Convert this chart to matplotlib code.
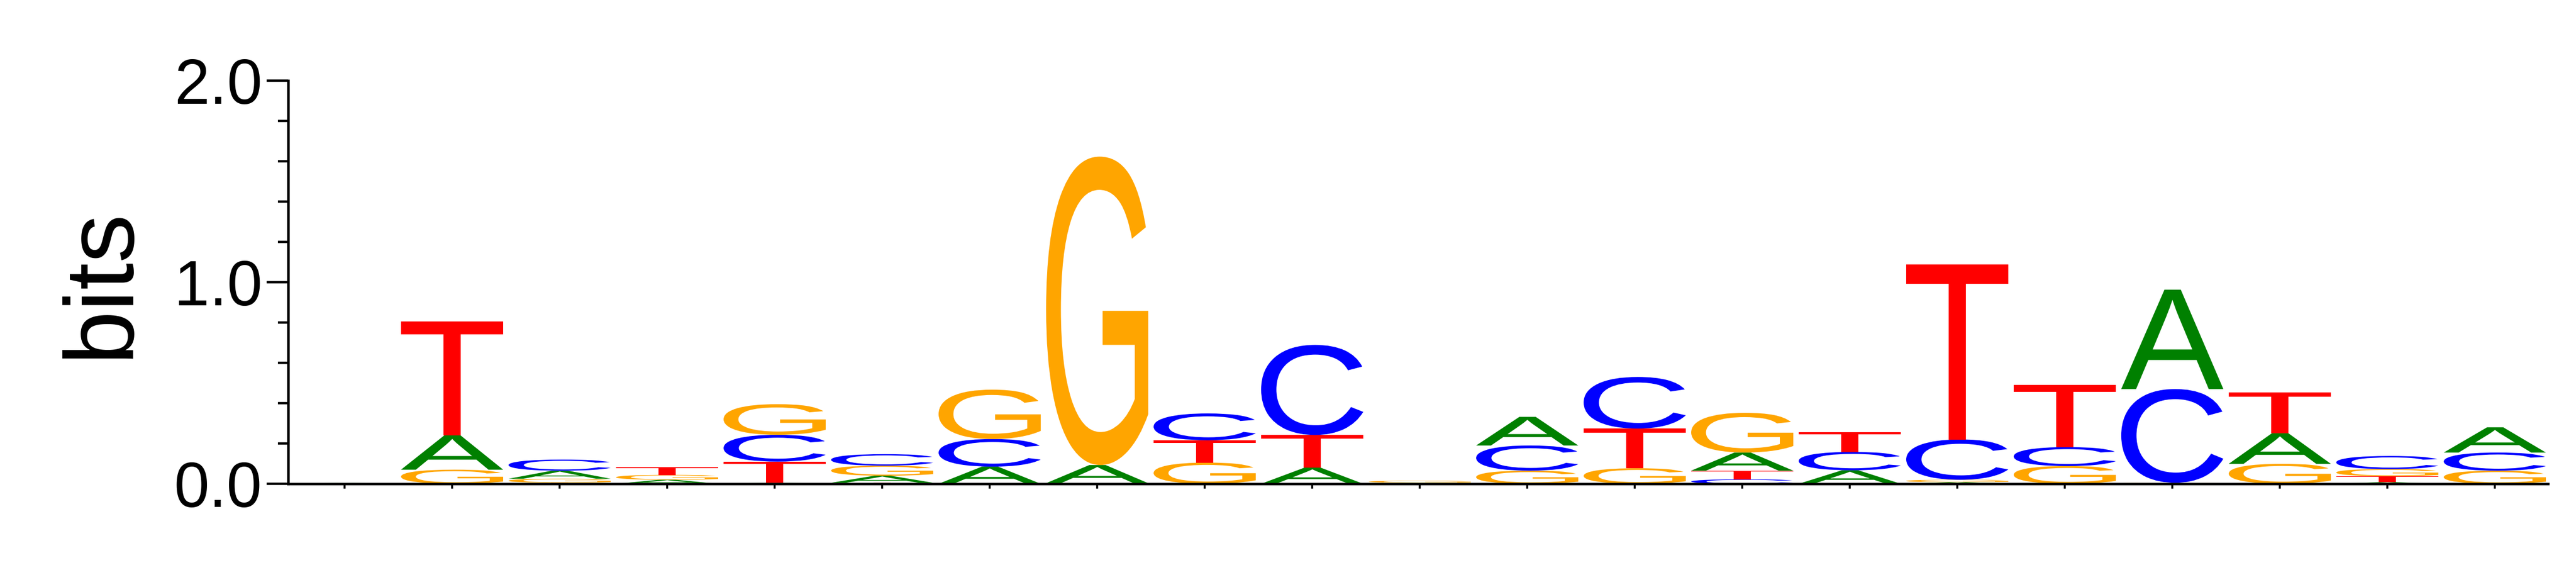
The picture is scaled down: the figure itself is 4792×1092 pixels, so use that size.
import matplotlib
matplotlib.use('Agg')
import matplotlib.pyplot as plt
from matplotlib.textpath import TextPath
from matplotlib.patches import PathPatch
from matplotlib.font_manager import FontProperties
from matplotlib.transforms import Affine2D
from matplotlib.ticker import MultipleLocator, FormatStrFormatter

plt.rcParams['font.family'] = ['Liberation Sans', 'DejaVu Sans']

# ---- data: information (bits) per letter at each position ----
positions = list(range(1, 22))
A = [0.004, 0.170, 0.040, 0.020, 0.005, 0.035, 0.085, 0.090, 0.000, 0.080, 0.005,
     0.142, 0.000, 0.090, 0.067, 0.008, 0.000, 0.493, 0.152, 0.008, 0.125]
C = [0.000, 0.000, 0.055, 0.000, 0.133, 0.057, 0.137, 0.000, 0.133, 0.447, 0.000,
     0.125, 0.256, 0.022, 0.091, 0.200, 0.094, 0.465, 0.000, 0.065, 0.090]
G = [0.000, 0.070, 0.020, 0.024, 0.152, 0.050, 0.245, 1.530, 0.105, 0.000, 0.010,
     0.065, 0.077, 0.197, 0.000, 0.012, 0.088, 0.005, 0.099, 0.035, 0.065]
T = [0.000, 0.565, 0.005, 0.038, 0.105, 0.005, 0.000, 0.003, 0.111, 0.162, 0.000,
     0.000, 0.197, 0.043, 0.098, 0.869, 0.309, 0.000, 0.203, 0.030, 0.000]

colors = {'A': '#008000', 'C': '#0000ff', 'G': '#ffa500', 'T': '#ff0000'}
letter_width = 0.95

W, H = 4792, 1092
fig = plt.figure(figsize=(W / 100, H / 100), dpi=100)
ax = fig.add_axes([536 / W, 192 / H, (4740 - 536) / W, 750 / H])

fp = FontProperties(family='Liberation Sans')


def draw_letter(ch, xc, y0, w, h):
    tp = TextPath((0, 0), ch, size=1, prop=fp)
    ext = tp.get_extents()
    tr = (Affine2D().translate(-ext.x0, -ext.y0)
          .scale(w / ext.width, h / ext.height)
          .translate(xc - w / 2, y0))
    ax.add_patch(PathPatch(tr.transform_path(tp), facecolor=colors[ch],
                           edgecolor='none', lw=0, zorder=2))


for i, pos in enumerate(positions):
    stack = [('A', A[i]), ('C', C[i]), ('G', G[i]), ('T', T[i])]
    stack.sort(key=lambda s: s[1])
    base = 0.0
    for ch, h in stack:
        if h <= 0:
            continue
        draw_letter(ch, pos, base, letter_width, h)
        base += h

ax.set_xlim(0.475, 21.495)
ax.set_ylim(0, 2)
ax.set_xticks(positions)
ax.set_xticklabels([])
ax.yaxis.set_major_locator(MultipleLocator(1.0))
ax.yaxis.set_minor_locator(MultipleLocator(0.2))
ax.yaxis.set_major_formatter(FormatStrFormatter('%.1f'))

for s in ['top', 'right']:
    ax.spines[s].set_visible(False)
ax.spines['left'].set_linewidth(3.4)
ax.spines['bottom'].set_linewidth(3.3)
ax.spines['left'].set_bounds(0, 2)

ax.tick_params(axis='y', which='major', length=28.8, width=3.2, pad=6, labelsize=85)
ax.tick_params(axis='y', which='minor', length=13.7, width=3.2)
ax.tick_params(axis='x', which='major', length=6.5, width=2.6)
ax.patch.set_visible(False)

fig.text(190 / W, 1 - 526 / H, 'bits', rotation=90, ha='center', va='center',
         fontsize=130)

fig.savefig('out.png', dpi=100, facecolor='white')
